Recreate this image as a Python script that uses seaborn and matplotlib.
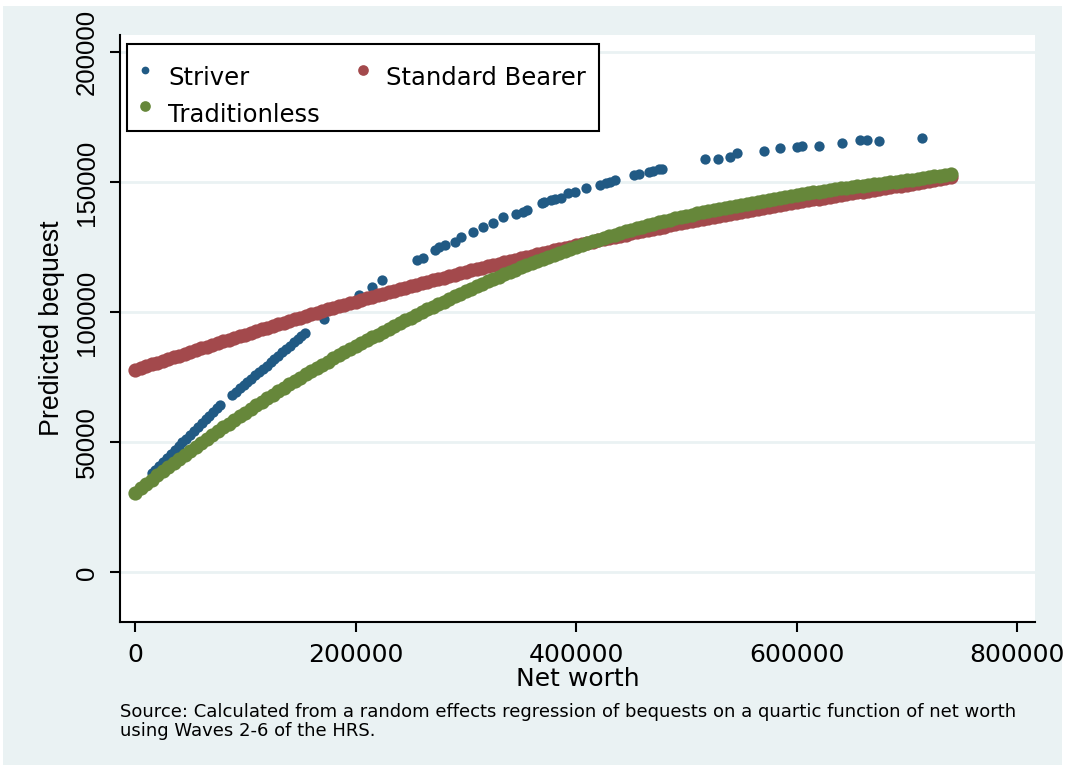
##### Libraries #####

import matplotlib
matplotlib.use("Agg")
import matplotlib.pyplot as plt
from matplotlib.patches import Rectangle
import pandas as pd
import seaborn as sns


##### Data #####

# Striver: predicted bequest by net worth (sparser points)
striver_networth = [15000, 18500, 22000, 25500, 29000, 32500, 36000, 39500, 43000, 46500,
                    50000, 53500, 57000, 60500, 64000, 67500, 71000, 74500, 77500,
                    88000, 91500, 95000, 98500, 102000, 105500, 109000, 112500, 116000,
                    119500, 123000, 126500, 130000, 133500, 137000, 140500, 144000, 147500,
                    151000, 154000,
                    171000, 203000, 215000, 224000, 255500, 261500, 272000, 276000, 281000,
                    290000, 296000, 307000, 316000, 325000, 334000, 346000, 352000, 356000,
                    369000, 371000, 377000, 381000, 386000, 393000, 399000, 409000, 422000,
                    427000, 431000, 435000, 453000, 457000, 466000, 470000, 475000, 478000,
                    517000, 529000, 539700, 546300, 570800, 585000, 600200, 604700, 620700,
                    641000, 657600, 663600, 674800, 713500]
striver_bequest = [38100, 39600, 41100, 42500, 44000, 45500, 47000, 48500, 50000, 51400,
                   52900, 54400, 55900, 57400, 58900, 60300, 61800, 63300, 64500,
                   68300, 69600, 70800, 72100, 73300, 74600, 75900, 77100, 78400,
                   79600, 80900, 82200, 83400, 84700, 85900, 87200, 88500, 89700,
                   91000, 92100,
                   97400, 106700, 109900, 112500, 120200, 121100, 124000, 125000, 126000,
                   127200, 128900, 131100, 133000, 134500, 136600, 137700, 138700, 139400,
                   142000, 142400, 143300, 143600, 143900, 145800, 146500, 147800, 149000,
                   149700, 150100, 151000, 152900, 153300, 154100, 154500, 155000, 155100,
                   158900, 158900, 159900, 161200, 162100, 163100, 163800, 164200, 164200,
                   165300, 166200, 166200, 166100, 167200]

# Standard Bearer and Traditionless share the same net worth points (in thousands)
networth_k = [0, 5, 10, 15, 20, 25, 30, 35, 40, 45, 50, 55, 60, 65, 70, 75, 80, 85, 90, 95,
              100, 105, 110, 115, 120, 125, 130, 135, 140, 145, 150, 155, 160, 165, 170, 175, 180, 185, 190, 195,
              200, 205, 210, 215, 220, 225, 230, 235, 240, 245, 250, 255, 260, 265, 270, 275, 280, 285, 290, 295,
              300, 305, 310, 315, 320, 325, 330, 335, 340, 345, 350, 355, 360, 365, 370, 375, 380, 385, 390, 395,
              400, 405, 410, 415, 420, 425, 430, 435, 440, 445, 450, 455, 460, 465, 470, 475, 480, 485, 490, 495,
              500, 505, 510, 515, 520, 525, 530, 535, 540, 545, 550, 555, 560, 565, 570, 575, 580, 585, 590, 595,
              600, 605, 610, 615, 620, 625, 630, 635, 640, 645, 650, 655, 660, 665, 670, 675, 680, 685, 690, 695,
              700, 705, 710, 715, 720, 725, 730, 735, 740]
bearer_bequest = [77900, 78600, 79300, 80000, 80700, 81400, 82100, 82750, 83400, 84100,
                  84800, 85500, 86200, 86850, 87500, 88200, 88900, 89550, 90200, 90850,
                  91500, 92150, 92800, 93450, 94100, 94750, 95400, 96050, 96700, 97350,
                  98000, 98650, 99300, 99900, 100500, 101150, 101800, 102400, 103000, 103600,
                  104200, 104800, 105400, 106000, 106600, 107150, 107700, 108300, 108900, 109450,
                  110000, 110600, 111200, 111750, 112300, 112850, 113400, 113950, 114500, 115050,
                  115600, 116150, 116700, 117200, 117700, 118250, 118800, 119300, 119800, 120300,
                  120800, 121350, 121900, 122400, 122900, 123400, 123900, 124350, 124800, 125300,
                  125800, 126250, 126700, 127200, 127700, 128150, 128600, 129050, 129500, 129950,
                  130400, 130850, 131300, 131750, 132200, 132600, 133000, 133450, 133900, 134300,
                  134700, 135100, 135500, 135900, 136300, 136700, 137100, 137500, 137900, 138300,
                  138700, 139050, 139400, 139800, 140200, 140550, 140900, 141300, 141700, 142050,
                  142400, 142750, 143100, 143450, 143800, 144150, 144500, 144850, 145200, 145500,
                  145800, 146150, 146500, 146850, 147200, 147500, 147800, 148150, 148500, 148800,
                  149100, 149450, 149800, 150150, 150500, 150850, 151200, 151600, 152000]
traditionless_bequest = [30700, 32350, 34000, 35650, 37300, 38900, 40500, 42100, 43700, 45250,
                         46800, 48350, 49900, 51400, 52900, 54350, 55800, 57250, 58700, 60100,
                         61500, 62900, 64300, 65650, 67000, 68350, 69700, 71000, 72300, 73600,
                         74900, 76150, 77400, 78650, 79900, 81100, 82300, 83500, 84700, 85850,
                         87000, 88150, 89300, 90400, 91500, 92600, 93700, 94800, 95900, 96950,
                         98000, 99050, 100100, 101150, 102200, 103200, 104200, 105200, 106200, 107200,
                         108200, 109150, 110100, 111050, 112000, 112900, 113800, 114700, 115600, 116450,
                         117300, 118150, 119000, 119800, 120600, 121400, 122200, 122950, 123700, 124450,
                         125200, 125900, 126600, 127300, 128000, 128650, 129300, 129950, 130600, 131200,
                         131800, 132400, 133000, 133550, 134100, 134650, 135200, 135700, 136200, 136700,
                         137200, 137650, 138100, 138500, 138950, 139350, 139800, 140200, 140600, 141000,
                         141400, 141800, 142200, 142600, 143000, 143400, 143800, 144150, 144500, 144850,
                         145200, 145550, 145900, 146200, 146500, 146800, 147100, 147400, 147700, 148000,
                         148300, 148550, 148800, 149050, 149300, 149550, 149800, 150050, 150300, 150550,
                         150800, 151100, 151400, 151700, 152000, 152300, 152600, 152900, 153200]

x_ticks = [0, 200000, 400000, 600000, 800000]
x_tick_labels = ["0", "200000", "400000", "600000", "800000"]
y_ticks = [0, 50000, 100000, 150000, 200000]
y_tick_labels = ["0", "50000", "100000", "150000", "200000"]

BLUE = "#215A84"
RED = "#A3494C"
GREEN = "#66873A"
BG = "#EAF2F3"


##### Plot #####

networth = [v * 1000 for v in networth_k]
df_striver = pd.DataFrame({"networth": striver_networth, "bequest": striver_bequest})
df_bearer = pd.DataFrame({"networth": networth, "bequest": bearer_bequest})
df_trad = pd.DataFrame({"networth": networth, "bequest": traditionless_bequest})

fig = plt.figure(figsize=(10.72, 7.73), dpi=100)
fig.patch.set_facecolor("white")
# light bluish graph region
fig.add_artist(Rectangle((3 / 1072, 8 / 773), 1059 / 1072, 759 / 773,
                         transform=fig.transFigure, facecolor=BG, edgecolor="none", zorder=-10))

ax = fig.add_axes([120 / 1072, 1 - 622 / 773, 915 / 1072, 587 / 773])
ax.set_facecolor("white")

sns.scatterplot(data=df_striver, x="networth", y="bequest", ax=ax, color=BLUE,
                s=55, linewidth=0, label="Striver")
sns.scatterplot(data=df_bearer, x="networth", y="bequest", ax=ax, color=RED,
                s=105, linewidth=0, label="Standard Bearer")
sns.scatterplot(data=df_trad, x="networth", y="bequest", ax=ax, color=GREEN,
                s=105, linewidth=0, label="Traditionless")

ax.set_xlim(-13600, 816300)
ax.set_ylim(-19040, 206700)

ax.set_xticks(x_ticks)
ax.set_xticklabels(x_tick_labels, fontsize=18)
ax.set_yticks(y_ticks)
ax.set_yticklabels(y_tick_labels, fontsize=18.5, rotation=90, va="center",
                   family=["Liberation Sans", "DejaVu Sans"])
ax.tick_params(axis="both", length=7, width=1.5, color="black", direction="out")
ax.tick_params(axis="x", pad=8)
ax.tick_params(axis="y", pad=8)

ax.yaxis.grid(True, color=BG, linewidth=2)
ax.xaxis.grid(False)
ax.set_axisbelow(True)

for side in ["top", "right"]:
    ax.spines[side].set_visible(False)
for side in ["left", "bottom"]:
    ax.spines[side].set_linewidth(1.5)
    ax.spines[side].set_color("black")

ax.set_xlabel("Net worth", fontsize=18, labelpad=0)
ax.set_ylabel("Predicted bequest", fontsize=19.3, labelpad=7,
              family=["Liberation Sans", "DejaVu Sans"])

# legend: Striver / Standard Bearer on the first row, Traditionless below
h = ax.collections
leg = ax.legend([h[0], h[2], h[1]], ["Striver", "Traditionless", "Standard Bearer"],
                ncol=2, loc="upper left", bbox_to_anchor=(7 / 915, 1 - 9 / 587),
                borderaxespad=0, fancybox=False, frameon=True, edgecolor="black",
                framealpha=1, fontsize=17.5, handlelength=0.4, handletextpad=0.75,
                columnspacing=1.55, labelspacing=0.5, borderpad=0.55, markerscale=0.75)
leg.get_frame().set_linewidth(1.5)
# Stata puts the legend text a little below its marker
for t in leg.get_texts():
    t.set_y(-9)

fig.text(120 / 1072, 1 - 703 / 773,
         "Source: Calculated from a random effects regression of bequests on a quartic function of net worth\n"
         "using Waves 2-6 of the HRS.",
         fontsize=13, va="top", ha="left", linespacing=1.05)

plt.savefig("out.png", dpi=100)
